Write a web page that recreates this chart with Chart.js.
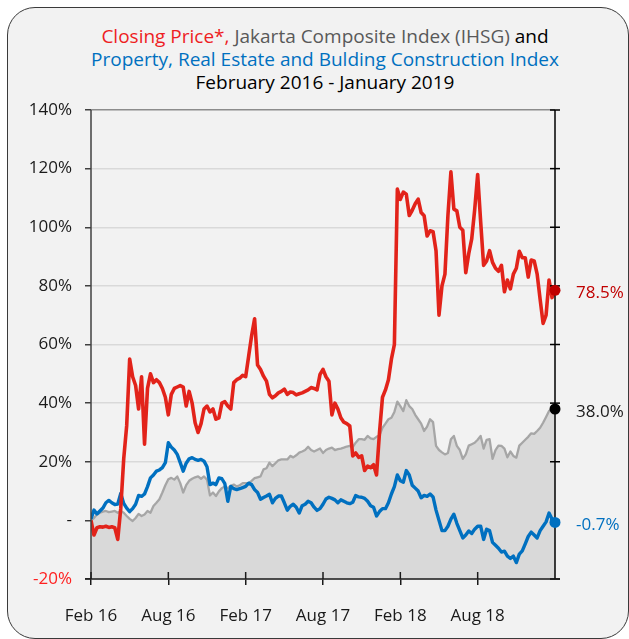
<!DOCTYPE html>
<html>
<head>
<meta charset="utf-8">
<script src="https://cdn.jsdelivr.net/npm/chart.js@4"></script>
<style>
  html, body { margin: 0; padding: 0; background: #ffffff; }
  #wrap { position: relative; width: 629px; height: 639px; overflow: hidden; }
  #panel { position: absolute; left: 7px; top: 7px; width: 622px; height: 632px;
           background: #f2f2f2; border: 1.5px solid #3a3a3a; border-radius: 28px; box-sizing: border-box; }
  #title { position: absolute; left: 20px; width: 610px; top: 25px; text-align: center;
           font-family: 'Open Sans', sans-serif; font-size: 19px; line-height: 23px; color: #000; }
  canvas { position: absolute; left: 0; top: 0; }
</style>
</head>
<body>
<div id="wrap">
  <div id="panel"></div>
  <div id="title">
    <span style="color:#ee1d23">Closing Price*,</span><span style="color:#595959"> Jakarta Composite Index (IHSG)</span><span style="color:#000"> and</span><br>
    <span style="color:#0070c0">Property, Real Estate and Bulding Construction Index</span><br>
    <span style="color:#000">February 2016 - January 2019</span>
  </div>
  <canvas id="c" width="629" height="639"></canvas>
</div>
<script>
// x-axis tick labels and their positions (in weeks since 1 Feb 2016)
const tickLabels = ['Feb 16', 'Aug 16', 'Feb 17', 'Aug 17', 'Feb 18', 'Aug 18'];
const tickWeeks = [0, 26, 52, 78, 104, 130];
const yTicks = [-20, 0, 20, 40, 60, 80, 100, 120, 140];

// weekly % change since Feb 2016
const closingPrice = [
  0, -5, -2.5, -2.2, -2.3, -2, -2.4, -2.2, -2.5, -6.5,
  4, 21, 32.3, 55, 49, 46, 38, 49, 26, 45,
  50, 47, 48, 47, 45, 42, 36, 43, 45, 45.5,
  46, 45.5, 39, 44, 40, 33.3, 30, 33, 38, 39,
  37, 38, 34.5, 35, 40, 40.5, 39, 38, 47, 48,
  48.5, 49.5, 49, 56, 63, 68.8, 53, 51.5, 49.2, 47.5,
  43, 41.8, 42.5, 43.5, 44, 44.8, 43, 43.8, 43.6, 42.8,
  43.2, 43.5, 44, 44.5, 45.3, 45, 44.5, 49.8, 51.5, 49,
  47.5, 36, 40, 38, 35, 33.5, 33, 32.2, 22, 23,
  21.5, 22, 17, 18.5, 18, 19, 15.5, 30, 42, 44.5,
  48, 55, 60, 113, 109.5, 112, 111.3, 104, 105.8, 108,
  109.6, 105, 103.9, 97, 98.8, 98.5, 92, 70, 80, 84,
  104, 118.9, 106.2, 105.6, 100, 99, 84.5, 91, 96, 106,
  118, 102, 87, 88.5, 92, 88, 86, 85, 87, 78,
  82, 79, 84, 86, 91.8, 89.6, 89.6, 83, 88.8, 88.5,
  84, 75.4, 67.2, 70, 82, 76, 78.5
];
const jci = [
  0, 0.8, 2, 2.6, 3, 3.2, 2.8, 3, 3.2, 2.6,
  3.2, 2.6, 1.5, 0.5, -0.2, 0.8, 2.2, 1.5, 2, 3.2,
  2.6, 4.9, 6, 7.2, 9.5, 12, 14, 14.5, 13.9, 15,
  12.7, 9.5, 12, 13.5, 14.2, 14.7, 15, 14.2, 15, 13.9,
  8.5, 9.5, 8.3, 9.9, 11, 11.6, 11, 11.8, 12.2, 11.6,
  12, 12.7, 12.7, 12.7, 13.5, 14.4, 14.7, 15, 17.4, 17.8,
  19.7, 18.5, 19.5, 20.5, 20.8, 20.8, 20.8, 22, 21.5, 22.2,
  23.1, 23.5, 24, 25.1, 24, 23.5, 24, 24.5, 23, 24,
  24.5, 24.8, 24, 24.3, 24.5, 24.8, 25.2, 25.4, 25, 26.5,
  27.7, 27.7, 27.5, 28.8, 28, 27.7, 28.5, 29, 31.6, 33,
  34.5, 35, 37, 40.5, 39, 37.3, 41, 39, 38, 36,
  34.5, 33, 30.5, 32, 34.5, 33.5, 25.4, 24, 23.2, 22.5,
  23, 27.7, 28.8, 25.4, 24, 21, 22.5, 25.5, 26, 26.5,
  27.5, 28.8, 24.5, 27.5, 27.7, 21, 24, 25.5, 25.4, 24.5,
  21.5, 23.5, 22, 21.4, 25.5, 26.5, 27.5, 28.5, 29.7, 29.5,
  30.5, 31.6, 33.3, 35.3, 37.3, 37.9, 38.0
];
const propertyIndex = [
  0.5, 3.5, 2.2, 3.2, 4.2, 6, 6.8, 6, 5.4, 5.6,
  9.2, 5.8, 4.2, 3, 4, 5.5, 8.5, 8.2, 9, 11.5,
  14.5, 15.5, 16.8, 17.2, 18, 19.7, 26.5, 25, 24, 22.5,
  19.7, 16.8, 19.5, 21, 21.4, 20.8, 20.5, 20.8, 20.2, 18.3,
  12.2, 12.7, 12.2, 14.5, 14.2, 12.5, 6.5, 11.6, 10.8, 10.5,
  10.8, 11.2, 11.6, 12.7, 12.2, 10.5, 9.5, 7.2, 7.8, 8.3,
  8.9, 6, 7.5, 8.3, 8.3, 6, 3.5, 4.8, 5.5, 4.5,
  2.5, 5, 5.5, 6.5, 6, 4.5, 3.4, 4, 5.5, 7.3,
  7.9, 7.5, 7, 6, 7, 6.5, 6, 5.7, 6.2, 8.5,
  8, 7.9, 7.5, 6.5, 5, 4.5, 1.5, 3, 4, 4,
  6, 9, 11.5, 15.5, 13.5, 13, 17, 15.5, 12, 11,
  10, 7.7, 8.5, 8.2, 9, 8, 3.5, 0, -3.5, -3.5,
  -2, 0.4, 2.1, -1, -3.5, -6, -5, -3.6, -4.5, -3,
  -2, -2, -6.5, -3, -3.5, -7.5, -8.5, -9.5, -10.8, -10.5,
  -12.2, -13, -12.2, -14.4, -11.5, -10.4, -8, -5.5, -4, -5,
  -6, -3.5, -2, -0.5, 2.5, 0.5, -0.7
];
const endLabels = ['78.5%', '38.0%', '-0.7%'];
const endLabelColors = ['#c00000', '#1a1a1a', '#0070c0'];
const markerColors = ['#c00000', '#000000', '#0070c0'];

const toPoints = arr => arr.map((v, i) => ({ x: i, y: v }));
const lastIdx = closingPrice.length - 1;

Chart.defaults.font.family = "'Open Sans', sans-serif";

const framePlugin = {
  id: 'frame',
  afterDatasetsDraw(chart) {
    const { ctx, chartArea: a, scales } = chart;
    ctx.save();
    ctx.lineWidth = 1.5;
    // left axis
    ctx.strokeStyle = '#404040';
    ctx.beginPath(); ctx.moveTo(a.left, a.top); ctx.lineTo(a.left, a.bottom); ctx.stroke();
    // right axis with crossing ticks
    ctx.strokeStyle = '#000';
    ctx.beginPath(); ctx.moveTo(a.right, a.top); ctx.lineTo(a.right, a.bottom); ctx.stroke();
    scales.y.ticks.forEach(t => {
      const y = scales.y.getPixelForValue(t.value);
      ctx.beginPath(); ctx.moveTo(a.right - 5, y); ctx.lineTo(a.right + 5, y); ctx.stroke();
    });
    // bottom axis with inner ticks
    ctx.strokeStyle = '#1a1a1a';
    ctx.beginPath(); ctx.moveTo(a.left - 6, a.bottom); ctx.lineTo(a.right + 5, a.bottom); ctx.stroke();
    scales.x.ticks.forEach(t => {
      const x = scales.x.getPixelForValue(t.value);
      ctx.beginPath(); ctx.moveTo(x, a.bottom - 7); ctx.lineTo(x, a.bottom); ctx.stroke();
    });
    ctx.restore();
  },
  afterDraw(chart) {
    const { ctx, chartArea: a } = chart;
    ctx.save();
    ctx.font = "17px 'Open Sans', sans-serif";
    ctx.textAlign = 'left';
    ctx.textBaseline = 'middle';
    chart.data.datasets.forEach((ds, i) => {
      const meta = chart.getDatasetMeta(i);
      const p = meta.data[meta.data.length - 1];
      ctx.fillStyle = markerColors[i];
      ctx.beginPath(); ctx.arc(p.x, p.y, 5.5, 0, Math.PI * 2); ctx.fill();
      ctx.fillStyle = endLabelColors[i];
      ctx.fillText(endLabels[i], a.right + 21, p.y + 3);
    });
    ctx.restore();
  }
};

new Chart(document.getElementById('c'), {
  type: 'line',
  data: {
    datasets: [
      {
        label: 'Closing Price',
        data: toPoints(closingPrice),
        borderColor: '#e2231a',
        borderWidth: 3.6,
        pointRadius: 0,
        fill: false,
        order: 0
      },
      {
        label: 'Jakarta Composite Index (IHSG)',
        data: toPoints(jci),
        borderColor: '#a6a6a6',
        borderWidth: 2.3,
        backgroundColor: '#d9d9d9',
        pointRadius: 0,
        fill: 'start',
        order: 2
      },
      {
        label: 'Property, Real Estate and Bulding Construction Index',
        data: toPoints(propertyIndex),
        borderColor: '#0070c0',
        borderWidth: 3.4,
        pointRadius: 0,
        fill: false,
        order: 1
      }
    ]
  },
  options: {
    responsive: false,
    animation: false,
    layout: { padding: { top: 110, right: 74, left: 0, bottom: 0 } },
    elements: { line: { tension: 0, borderJoinStyle: 'round' } },
    plugins: { legend: { display: false }, tooltip: { enabled: false }, title: { display: false } },
    scales: {
      x: {
        type: 'linear',
        min: 0,
        max: lastIdx,
        afterBuildTicks: s => { s.ticks = tickWeeks.map(v => ({ value: v })); },
        afterFit: s => { s.height = 60; },
        border: { display: false },
        grid: { drawOnChartArea: false, drawTicks: true, tickLength: 6, tickColor: '#1a1a1a', lineWidth: 1.5 },
        ticks: {
          autoSkip: false, maxRotation: 0, padding: 21,
          color: '#1a1a1a', font: { size: 17 },
          callback: (v, i) => tickLabels[i]
        }
      },
      y: {
        min: -20,
        max: 140,
        afterBuildTicks: s => { s.ticks = yTicks.map(v => ({ value: v })); },
        afterFit: s => { s.width = 91; },
        border: { display: false },
        grid: {
          color: c => (c.tick && c.tick.value === 140 ? '#8c8c8c' : '#d9d9d9'),
          lineWidth: 1.5,
          tickLength: 6,
          tickColor: '#404040'
        },
        ticks: {
          padding: 13,
          font: { size: 17 },
          color: c => (c.tick.value === -20 ? '#ff2020' : '#1a1a1a'),
          callback: v => (v === 0 ? '-' : v + '%')
        }
      }
    }
  },
  plugins: [framePlugin]
});
</script>
</body>
</html>
